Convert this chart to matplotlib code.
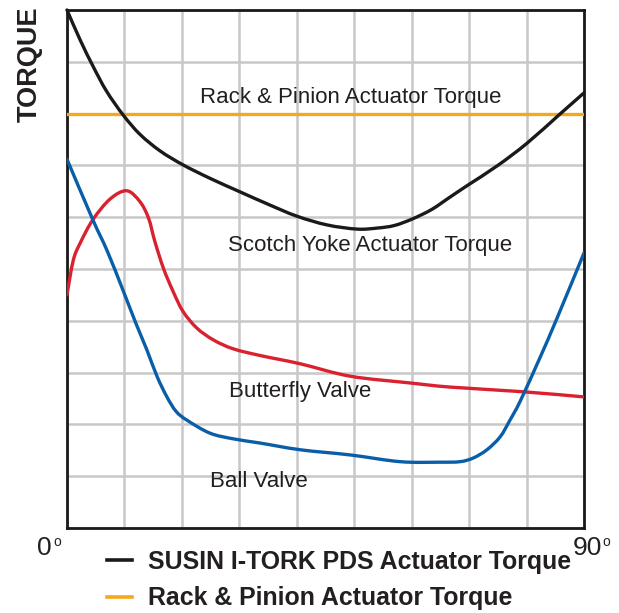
import matplotlib

matplotlib.use("Agg")
import matplotlib.pyplot as plt
from matplotlib.lines import Line2D
from matplotlib.path import Path
from matplotlib.patches import PathPatch
import numpy as np

# SUSIN I-TORK PDS / Scotch yoke actuator torque
black_x = [0, 2.3, 4.6, 6.9, 9.8, 12.7, 16.2, 20.2, 24.9, 30.1, 35, 40, 45.3, 50.5,
           54, 57, 60.2, 63.5, 66.7, 69.8, 75, 80.1, 85.8, 90]
black_y = [10.0, 9.42, 8.90, 8.43, 7.97, 7.60, 7.28, 7.01, 6.75, 6.49, 6.25, 6.02,
           5.85, 5.77, 5.79, 5.84, 5.97, 6.15, 6.39, 6.62, 7.0, 7.43, 7.99, 8.40]

# rack & pinion actuator torque (constant)
rack_torque = 8.0

# butterfly valve
red_x = [0, 1.1, 2.3, 4.5, 7.5, 10.4, 12.7, 14.2, 15.3, 16.8, 18.5, 20.2, 22.6,
         25.5, 28.9, 33.6, 40.6, 49.3, 59.7, 66.7, 79.4, 90]
red_y = [4.50, 5.17, 5.50, 5.95, 6.35, 6.51, 6.30, 5.98, 5.53, 5.01, 4.56, 4.18,
         3.86, 3.63, 3.46, 3.33, 3.17, 2.93, 2.80, 2.72, 2.63, 2.53]

# ball valve
blue_x = [0, 4.5, 7.0, 9.75, 12, 13.9, 15.7, 17.4, 19.0, 20.9, 24.9, 29, 33.6,
          40.6, 49.3, 58.0, 64.9, 68.4, 70.7, 73.1, 75.4, 77.1, 78.9, 82.3, 85.3, 90]
blue_y = [7.12, 5.95, 5.35, 4.59, 3.95, 3.44, 2.92, 2.53, 2.25, 2.08, 1.83, 1.72,
          1.64, 1.51, 1.41, 1.28, 1.27, 1.28, 1.35, 1.51, 1.76, 2.08, 2.45, 3.28,
          4.05, 5.31]

labels = [
    ("Rack & Pinion Actuator Torque", 49.3, 8.32),
    ("Scotch Yoke Actuator Torque", 52.7, 5.46),
    ("Butterfly Valve", 40.6, 2.64),
    ("Ball Valve", 33.4, 0.89),
]
legend_labels = ["SUSIN I-TORK PDS Actuator Torque", "Rack & Pinion Actuator Torque"]

plt.rcParams["font.family"] = ["Liberation Sans", "DejaVu Sans"]

BLACK = "#1a1a1a"
TEXT = "#231f20"
ORANGE = "#f5a81c"
RED = "#d92130"
BLUE = "#0a5ea8"
NARROW = ["Liberation Sans Narrow", "Liberation Sans"]


def smooth_path(xs, ys):
    # Catmull-Rom through the read points, drawn as cubic Bezier segments
    pts = np.column_stack([xs, ys]).astype(float)
    ext = np.vstack([pts[0], pts, pts[-1]])
    verts = [pts[0]]
    codes = [Path.MOVETO]
    for i in range(1, len(ext) - 2):
        p0, p1, p2, p3 = ext[i - 1], ext[i], ext[i + 1], ext[i + 2]
        verts += [p1 + (p2 - p0) / 6, p2 - (p3 - p1) / 6, p2]
        codes += [Path.CURVE4] * 3
    return Path(verts, codes)


def draw_curve(ax, xs, ys, color, clip=True):
    patch = PathPatch(smooth_path(xs, ys), facecolor="none", edgecolor=color,
                      lw=2.4, capstyle="round", joinstyle="round", zorder=4)
    patch.set_clip_on(clip)
    ax.add_patch(patch)


fig = plt.figure(figsize=(6.19, 6.13), dpi=100)
ax = fig.add_axes([0.1082, 0.1387, 0.8353, 0.845])

ax.set_xlim(0, 90)
ax.set_ylim(0, 10)
ax.set_xticks(np.arange(0, 91, 10))
ax.set_yticks(np.arange(0, 11, 1))
ax.tick_params(length=0, labelbottom=False, labelleft=False)
ax.grid(True, color="#c8c8c8", lw=1.8)
ax.set_axisbelow(True)
for sp in ax.spines.values():
    sp.set_color(BLACK)
    sp.set_linewidth(2.0)

ax.axhline(rack_torque, color=ORANGE, lw=2.4, zorder=3)
draw_curve(ax, black_x, black_y, BLACK, clip=False)
draw_curve(ax, red_x, red_y, RED)
draw_curve(ax, blue_x, blue_y, BLUE)

for text, x, y in labels:
    ax.text(x, y, text, ha="center", va="center", fontsize=16, color=TEXT, zorder=5)

# 0 and 90 degree end labels, with a small raised "o"
ax.annotate("0", xy=(0, 0), xytext=(-11, -6), textcoords="offset points",
            ha="right", va="top", fontsize=19, color=TEXT, family=NARROW)
ax.annotate("o", xy=(0, 0), xytext=(-10, -5), textcoords="offset points",
            ha="left", va="top", fontsize=10, color=TEXT, family=NARROW)
ax.annotate("90", xy=(90, 0), xytext=(13, -6), textcoords="offset points",
            ha="right", va="top", fontsize=19, color=TEXT, family=NARROW)
ax.annotate("o", xy=(90, 0), xytext=(13.5, -5), textcoords="offset points",
            ha="left", va="top", fontsize=10, color=TEXT, family=NARROW)

fig.text(0.048, 0.895, "TORQUE", rotation=90, ha="center", va="center",
         fontsize=19.5, fontweight="bold", color=TEXT)

handles = [
    Line2D([], [], color=BLACK, lw=2.6),
    Line2D([], [], color=ORANGE, lw=2.6),
]
fig.legend(handles, legend_labels,
           loc="upper left", bbox_to_anchor=(0.173, 0.103), frameon=False,
           handlelength=1.0, handletextpad=0.65, labelspacing=0.5,
           borderaxespad=0, borderpad=0,
           prop={"weight": "bold", "size": 17.9}, labelcolor=TEXT)

fig.savefig("out.png", dpi=100)
